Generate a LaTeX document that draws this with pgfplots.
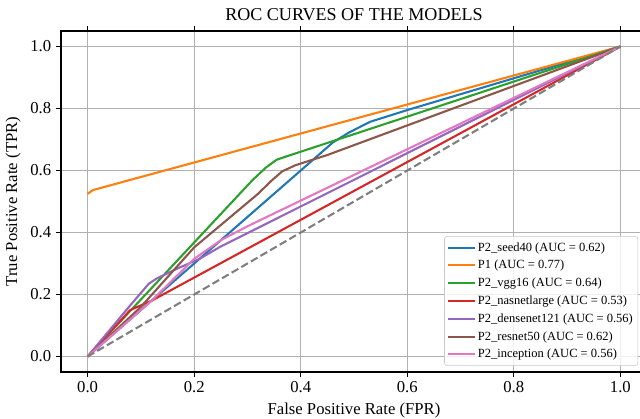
\documentclass[border=0pt]{standalone}
\usepackage{fontspec}
\setmainfont{Liberation Serif}
\usepackage{pgfplots}
\pgfplotsset{compat=1.18}

\definecolor{c0}{HTML}{1F77B4}
\definecolor{c1}{HTML}{FF7F0E}
\definecolor{c2}{HTML}{2CA02C}
\definecolor{c3}{HTML}{D62728}
\definecolor{c4}{HTML}{9467BD}
\definecolor{c5}{HTML}{8C564B}
\definecolor{c6}{HTML}{E377C2}
\definecolor{cgray}{HTML}{7F7F7F}
\definecolor{gridc}{HTML}{B0B0B0}

\begin{document}
\begin{tikzpicture}
\begin{axis}[
    scale only axis,
    width=421.9pt, height=245.5pt,
    xmin=-0.05, xmax=1.05, ymin=-0.05, ymax=1.05,
    xtick={0,0.2,0.4,0.6,0.8,1.0},
    ytick={0,0.2,0.4,0.6,0.8,1.0},
    xticklabel style={/pgf/number format/.cd, fixed, fixed zerofill, precision=1},
    yticklabel style={/pgf/number format/.cd, fixed, fixed zerofill, precision=1},
    /pgf/number format/assume math mode=true,
    tick label style={font=\fontsize{12}{14}\selectfont},
    label style={font=\fontsize{12}{14}\selectfont},
    title style={font=\fontsize{13}{15}\selectfont, yshift=-2pt},
    tick align=outside,
    major tick length=3.6pt,
    tick style={black, line width=0.6pt},
    axis line style={line width=0.8pt},
    grid=major,
    major grid style={color=gridc, line width=0.8pt},
    title={ROC CURVES OF THE MODELS},
    xlabel={False Positive Rate (FPR)},
    ylabel={True Positive Rate (TPR)},
    legend cell align=left,
    legend style={
        at={(rel axis cs:0.985,0.018)}, anchor=south east,
        font=\fontsize{9}{10}\selectfont,
        draw=gridc!70, rounded corners=2pt,
        fill=white, fill opacity=0.8, text opacity=1,
        nodes={inner sep=1.6pt, text height=7pt, text depth=2pt},
        row sep=0.6pt, inner xsep=2pt, inner ysep=2pt
    },
    legend image code/.code={\draw[#1] (0pt,0pt) -- (19pt,0pt);},
    every axis plot/.append style={line width=1.5pt, line join=round},
]
\addplot[c0] coordinates {
    (0,0) (0.46,0.69) (0.49,0.722) (0.53,0.757) (0.6,0.795) (1,1)
};
\addlegendentry{P2\_seed40 (AUC = 0.62)}
\addplot[c1] coordinates {
    (0,0.525) (0.01,0.537) (1,1)
};
\addlegendentry{P1 (AUC = 0.77)}
\addplot[c2] coordinates {
    (0,0) (0.31,0.57) (0.335,0.61) (0.355,0.635) (0.39,0.655) (1,1)
};
\addlegendentry{P2\_vgg16 (AUC = 0.64)}
\addplot[c3] coordinates {
    (0,0) (0.08,0.15) (0.12,0.18) (1,1)
};
\addlegendentry{P2\_nasnetlarge (AUC = 0.53)}
\addplot[c4] coordinates {
    (0,0) (0.08,0.165) (0.115,0.235) (0.13,0.252) (0.17,0.285) (0.21,0.315) (0.25,0.355) (1,1)
};
\addlegendentry{P2\_densenet121 (AUC = 0.56)}
\addplot[c5] coordinates {
    (0,0) (0.1,0.16) (0.2,0.352) (0.32,0.525) (0.345,0.567) (0.365,0.597) (0.39,0.617) (0.45,0.65) (1,1)
};
\addlegendentry{P2\_resnet50 (AUC = 0.62)}
\addplot[c6] coordinates {
    (0,0) (0.12,0.18) (0.2,0.315) (0.25,0.375) (0.3,0.42) (1,1)
};
\addlegendentry{P2\_inception (AUC = 0.56)}
\addplot[cgray, dashed, dash pattern=on 5.5pt off 2.5pt, forget plot] coordinates {
    (0,0) (1,1)
};
\end{axis}
\pgfresetboundingbox
\path[use as bounding box] (current axis.south west) ++(-43.92pt,-33.84pt) rectangle ++(460.8pt,301.68pt);
\end{tikzpicture}
\end{document}
